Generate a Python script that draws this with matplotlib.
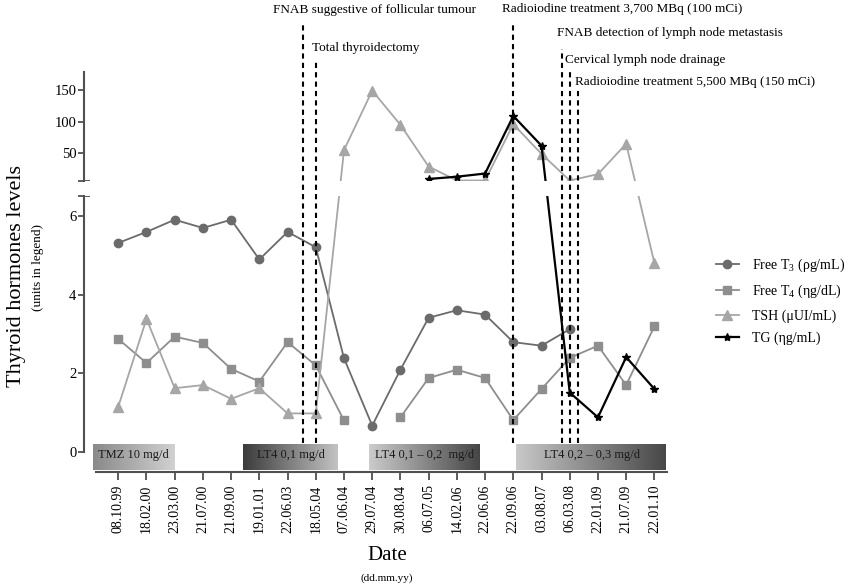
import numpy as np
import matplotlib
matplotlib.use('Agg')
import matplotlib.pyplot as plt
from matplotlib.colors import LinearSegmentedColormap

plt.rcParams['font.family'] = ['Liberation Serif', 'DejaVu Serif']

nan = np.nan
dates = ['08.10.99', '18.02.00', '23.03.00', '21.07.00', '21.09.00', '19.01.01',
         '22.06.03', '18.05.04', '07.06.04', '29.07.04', '30.08.04', '06.07.05',
         '14.02.06', '22.06.06', '22.09.06', '03.08.07', '06.03.08', '22.01.09',
         '21.07.09', '22.01.10']
free_t3 = [5.31, 5.59, 5.9, 5.69, 5.9, 4.89, 5.59, 5.2, 2.38, 0.67,
           2.09, 3.41, 3.6, 3.49, 2.79, 2.7, 3.12, nan, nan, nan]
free_t4 = [2.87, 2.26, 2.93, 2.77, 2.11, 1.79, 2.79, 2.2, 0.8, nan,
           0.88, 1.88, 2.09, 1.88, 0.81, 1.6, 2.39, 2.7, 1.7, 3.19]
tsh = [1.15, 3.38, 1.62, 1.7, 1.35, 1.62, 0.98, 0.98, 55, 149,
       95, 29, 7, 7, 96, 49, 7, 17, 65, 4.8]
tg = [nan, nan, nan, nan, nan, nan, nan, nan, nan, nan,
      nan, 9.4, 13, 18, 109, 62, 1.51, 0.88, 2.41, 1.6]

treatments = ['TMZ 10 mg/d', 'LT4 0,1 mg/d', 'LT4 0,1 \u2013 0,2  mg/d', 'LT4 0,2 \u2013 0,3 mg/d']
treat_start = [-0.91, 4.42, 8.9, 14.11]
treat_end = [2.0, 7.79, 12.84, 19.46]

events = ['FNAB suggestive of follicular tumour', 'Total thyroidectomy',
          'Radioiodine treatment 3,700 MBq (100 mCi)',
          'FNAB detection of lymph node metastasis', 'Cervical lymph node drainage',
          'Radioiodine treatment 5,500 MBq (150 mCi)']
event_x = [6.55, 7.0, 14.0, 15.74, 16.0, 16.28]

# broken y axis: 0-6.5 linear, then compressed upper part
BRK = 6.5
GAP = 0.388
K = 0.01607


def fwd(v):
    v = np.asarray(v, dtype=float)
    return np.where(v <= BRK, v, BRK + GAP + (v - BRK) * K)


def inv(u):
    u = np.asarray(u, dtype=float)
    return np.where(u <= BRK, u, BRK + (u - BRK - GAP) / K)


x = np.arange(len(dates))
spine_c = '#505050'

fig = plt.figure(figsize=(8.5, 5.88), dpi=100)
ax = fig.add_axes([0.0988, 0.1973, 0.686, 0.6808])
ax.set_yscale('function', functions=(fwd, inv))

ax.plot(x, free_t3, '-o', color='#6b6b6b', ms=6, lw=1.3, label='Free T$_\\mathregular{3}$ (\u03c1g/mL)', zorder=2)
ax.plot(x, free_t4, '-s', color='#8e8e8e', ms=5.8, lw=1.3, label='Free T$_\\mathregular{4}$ (\u03b7g/dL)', zorder=2)
ax.plot(x, tsh, '-^', color='#a6a6a6', ms=6.5, lw=1.3, label='TSH (\u03bcUI/mL)', zorder=2)
ax.plot(x, tg, '-*', color='black', ms=6, lw=1.6, label='TG (\u03b7g/mL)', zorder=2.1)

# white gap hiding the lines at the break
ax.axhspan(BRK, BRK + 1e-6, color='white', lw=0, zorder=2.2)

# treatment boxes with gradients
box_left = ['#8a8a8a', '#3c3c3c', '#cbcbcb', '#c8c8c8']
box_right = ['#d2d2d2', '#c4c4c4', '#454545', '#464646']
grad = np.linspace(0, 1, 256).reshape(1, -1)
for i in range(len(treatments)):
    cm = LinearSegmentedColormap.from_list('g%d' % i, [box_left[i], box_right[i]])
    ax.imshow(grad, extent=[treat_start[i], treat_end[i], -0.45, 0.23], aspect='auto',
              cmap=cm, interpolation='bilinear', zorder=1.5)
    ax.text((treat_start[i] + treat_end[i]) / 2, -0.07, treatments[i], ha='center', va='center',
            fontsize=9, color='#1a1a1a', zorder=3)

# event lines and labels
tops = [1.1217, 1.0267, 1.125, 1.057, 1.003, 0.954]
tx = [5.48, 6.86, 13.6, 15.54, 15.85, 16.2]
ty = [1.154, 1.059, 1.157, 1.097, 1.029, 0.974]
for i in range(len(events)):
    ax.axvline(event_x[i], ymin=0.0724, ymax=tops[i], color='black', ls=(0, (2.5, 2)), lw=1.5,
               clip_on=False, zorder=4)
    ax.text(tx[i], ty[i], events[i], transform=ax.get_xaxis_transform(), ha='left', va='center',
            fontsize=9.5)

ax.set_xlim(-1.215, 19.45)
ax.set_ylim(-0.508, 179)

# axes styling
for s in ['top', 'right', 'left']:
    ax.spines[s].set_visible(False)
ax.spines['bottom'].set_bounds(-0.79, 19.45)
ax.spines['bottom'].set_color(spine_c)
ax.spines['bottom'].set_linewidth(1.5)
tr = ax.get_yaxis_transform()
ax.plot([0, 0], [0, BRK], transform=tr, color=spine_c, lw=1.5, clip_on=False, zorder=3)
ax.plot([0, 0], [BRK + 1e-6, 179], transform=tr, color=spine_c, lw=1.5, clip_on=False, zorder=3)

yt = [0, 2, 4, 6, 50, 100, 150]
ax.set_yticks(yt)
ax.set_yticklabels([str(v) for v in yt])
ax.set_yticks([BRK, BRK + 1e-6], minor=True)
ax.tick_params(axis='y', which='major', length=4, width=1.3, color=spine_c, labelsize=10.5, pad=1.5)
ax.tick_params(axis='y', which='minor', direction='inout', length=8, width=1.3, color=spine_c)

ax.set_xticks(x)
ax.set_xticklabels(dates, rotation=90, fontsize=10)
ax.tick_params(axis='x', length=6, width=1.3, color=spine_c, pad=3)

fig.text(0.02, 0.53, 'Thyroid hormones levels', rotation=90, fontsize=16, ha='center', va='center')
fig.text(0.045, 0.545, '(units in legend)', rotation=90, fontsize=9.5, ha='center', va='center')
fig.text(0.455, 0.056, 'Date', fontsize=15, ha='center', va='center')
fig.text(0.455, 0.017, '(dd.mm.yy)', fontsize=8, ha='center', va='center')

fig.legend(loc='upper left', bbox_to_anchor=(0.828, 0.585), frameon=False, fontsize=10,
           handlelength=1.6, handletextpad=1.0, labelspacing=0.65)

fig.savefig('out.png', dpi=100)
